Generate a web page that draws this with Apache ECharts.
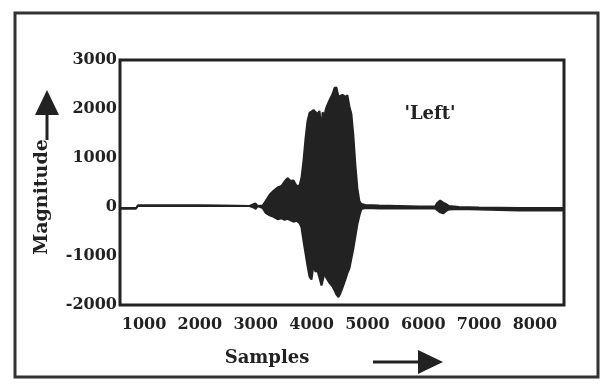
<!DOCTYPE html>
<html>
<head>
<meta charset="utf-8">
<script src="https://cdn.jsdelivr.net/npm/echarts@6/dist/echarts.min.js"></script>
<style>
  html, body { margin: 0; padding: 0; background: #fff; }
  #chart { width: 603px; height: 387px; }
</style>
</head>
<body>
<div id="chart"></div>
<script>
// waveform envelope (sample index, top and bottom of the trace)
var samples = [570, 856, 891, 2000, 2890, 2963, 2999, 3035, 3124, 3178, 3249, 3320, 3392, 3463, 3517, 3570, 3624, 3677, 3731, 3785, 3820, 3856, 3892, 3927, 3963, 3999, 4035, 4070, 4106, 4142, 4178, 4196, 4231, 4267, 4321, 4374, 4410, 4446, 4482, 4517, 4553, 4606, 4642, 4678, 4713, 4749, 4785, 4821, 4856, 4892, 4963, 5213, 5570, 5927, 6213, 6249, 6303, 6356, 6410, 6463, 6642, 7000, 7714, 8500];
var upper = [-30, -30, 30, 30, 20, 60, 70, 20, 30, 120, 250, 330, 400, 430, 520, 590, 530, 540, 430, 440, 600, 950, 1400, 1750, 1920, 1950, 1980, 1990, 1900, 1960, 1550, 1930, 1880, 2040, 2180, 2300, 2430, 2440, 2250, 2280, 2290, 2250, 2280, 2050, 1900, 1450, 850, 380, 120, 60, 40, 30, 20, 10, 10, 80, 130, 90, 60, 20, 0, -10, -20, -30];
var lower = [-30, -30, 30, 30, 20, -10, -40, 20, -20, -120, -170, -200, -250, -230, -260, -240, -270, -300, -280, -330, -420, -700, -950, -1200, -1420, -1480, -1180, -1320, -1300, -1450, -1600, -1560, -1350, -1450, -1550, -1620, -1700, -1790, -1840, -1760, -1650, -1480, -1350, -1250, -1050, -850, -600, -350, -180, -40, -20, -30, -30, -30, -30, -60, -110, -130, -80, -50, -40, -50, -70, -70];
var xTicks = [1000, 2000, 3000, 4000, 5000, 6000, 7000, 8000];
var yMin = -2000, yMax = 3000, yStep = 1000;

var ink = '#222';
var serif = 'DejaVu Serif';

function pairs(vals) {
    return samples.map(function (s, i) { return [s, vals[i]]; });
}

var chart = echarts.init(document.getElementById('chart'), null, { renderer: 'canvas' });

var option = {
    backgroundColor: '#fff',
    animation: false,
    grid: {
        left: 120,
        right: 39,
        top: 60,
        bottom: 82,
        show: true,
        borderColor: ink,
        borderWidth: 3,
        backgroundColor: 'transparent',
        containLabel: false,
        outerBoundsMode: 'none'
    },
    xAxis: {
        type: 'value',
        min: 570,
        max: 8520,
        axisLine: { show: false },
        axisTick: { show: false },
        splitLine: { show: false },
        axisLabel: {
            customValues: xTicks,
            formatter: function (v) { return String(v); },
            margin: 12,
            color: ink,
            fontFamily: serif,
            fontWeight: 'bold',
            fontSize: 16
        }
    },
    yAxis: {
        type: 'value',
        min: yMin,
        max: yMax,
        interval: yStep,
        axisLine: { show: false },
        axisTick: { show: false },
        splitLine: { show: false },
        axisLabel: {
            formatter: function (v) { return String(v); },
            margin: 3,
            color: ink,
            fontFamily: serif,
            fontWeight: 'bold',
            fontSize: 16
        }
    },
    series: [
        {
            name: 'top',
            type: 'line',
            data: pairs(upper),
            showSymbol: false,
            lineStyle: { color: ink, width: 2 },
            areaStyle: { color: ink, opacity: 1, origin: 0 },
            z: 3
        },
        {
            name: 'bottom',
            type: 'line',
            data: pairs(lower),
            showSymbol: false,
            lineStyle: { color: ink, width: 2 },
            areaStyle: { color: ink, opacity: 1, origin: 0 },
            z: 3
        }
    ],
    graphic: [
        // outer frame of the figure
        {
            type: 'rect',
            shape: { x: 15, y: 13, width: 583, height: 364 },
            style: { fill: 'none', stroke: '#333', lineWidth: 3 }
        },
        {
            type: 'text',
            x: 42, y: 197,
            rotation: Math.PI / 2,
            style: {
                text: 'Magnitude',
                fill: ink,
                font: 'bold 19px "DejaVu Serif"',
                align: 'center',
                verticalAlign: 'middle'
            }
        },
        // up arrow
        {
            type: 'line',
            shape: { x1: 47, y1: 112, x2: 47, y2: 140 },
            style: { stroke: ink, lineWidth: 3 }
        },
        {
            type: 'polygon',
            shape: { points: [[35, 115], [59, 115], [47, 90]] },
            style: { fill: ink }
        },
        {
            type: 'text',
            x: 267, y: 358,
            style: {
                text: 'Samples',
                fill: ink,
                font: 'bold 18px "DejaVu Serif"',
                align: 'center',
                verticalAlign: 'middle'
            }
        },
        // right arrow
        {
            type: 'line',
            shape: { x1: 373, y1: 362, x2: 420, y2: 362 },
            style: { stroke: ink, lineWidth: 3 }
        },
        {
            type: 'polygon',
            shape: { points: [[418, 350], [418, 374], [443, 362]] },
            style: { fill: ink }
        },
        {
            type: 'text',
            x: 430, y: 114,
            style: {
                text: "'Left'",
                fill: ink,
                font: 'bold 18px "DejaVu Serif"',
                align: 'center',
                verticalAlign: 'middle'
            }
        }
    ]
};

chart.setOption(option);
</script>
</body>
</html>
